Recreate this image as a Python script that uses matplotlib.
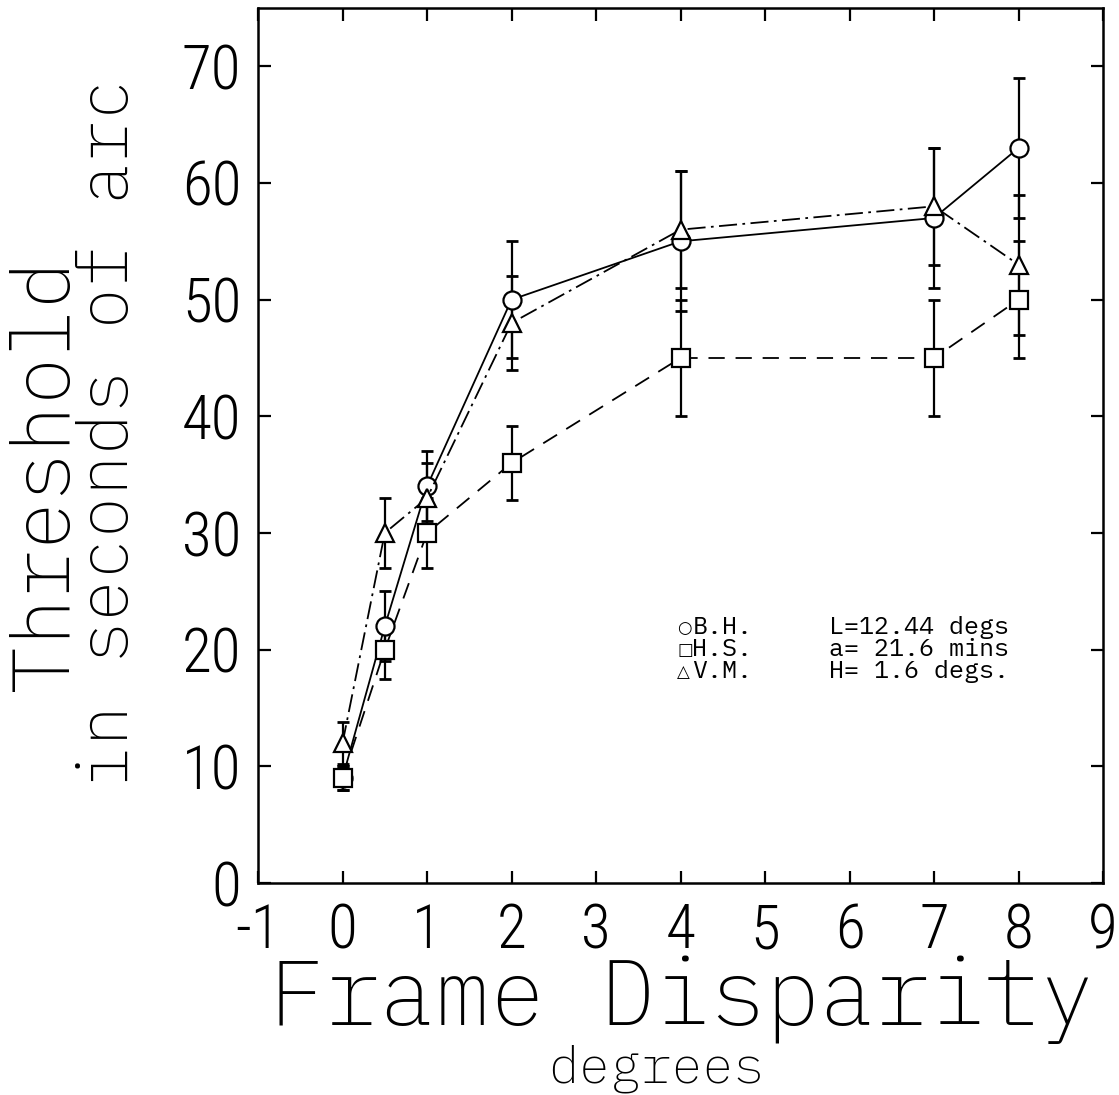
import matplotlib
matplotlib.use("Agg")
import matplotlib.pyplot as plt

# ---- data ------------------------------------------------------------------
disparity = [0, 0.5, 1, 2, 4, 7, 8]

bh_thr = [9, 22, 34, 50, 55, 57, 63]
bh_err = [1, 3, 3, 5, 6, 6, 6]

hs_thr = [9, 20, 30, 36, 45, 45, 50]
hs_err = [1, 2.5, 3, 3.2, 5, 5, 5]

vm_thr = [12, 30, 33, 48, 56, 58, 53]
vm_err = [1.8, 3, 3, 4, 5, 5, 6]

legend_rows = [("\u25cb", "B.H.", "L=12.44 degs"),
               ("\u25a1", "H.S.", "a= 21.6 mins"),
               ("\u25b3", "V.M.", "H= 1.6 degs.")]

xticks = list(range(-1, 10))
yticks = list(range(0, 71, 10))

MONO = ["IBM Plex Mono", "Source Code Pro", "Roboto Mono",
        "DejaVu Sans Mono", "DejaVu Sans"]
NARROW = ["Roboto Condensed", "Liberation Sans Narrow", "Liberation Sans",
          "DejaVu Sans"]

fig = plt.figure(figsize=(11.19, 10.95), dpi=100)
ax = fig.add_axes([0.2306, 0.1936, 0.7551, 0.7991])

series = [
    (bh_thr, bh_err, "o", "-"),
    (hs_thr, hs_err, "s", (0, (9, 6))),
    (vm_thr, vm_err, "^", (0, (10, 3, 1.5, 3))),
]
for thr, err, mk, ls in series:
    ax.errorbar(disparity, thr, yerr=err, fmt="none", ecolor="black",
                elinewidth=1.6, capsize=4, capthick=2, zorder=2)
    ax.plot(disparity, thr, color="black", lw=1.3, ls=ls, marker=mk,
            ms=13, mfc="white", mec="black", mew=1.6, zorder=3)

ax.set_xlim(-1, 9)
ax.set_ylim(0, 75)
ax.set_xticks(xticks)
ax.set_yticks(yticks)
ax.set_xticklabels([str(t) for t in xticks], family=NARROW,
                   fontweight="light", fontsize=44)
ax.set_yticklabels([str(t) for t in yticks], family=NARROW,
                   fontweight="light", fontsize=44)
ax.tick_params(axis="both", direction="in", length=9, width=1.6,
               top=True, right=True)
ax.tick_params(axis="y", pad=12)
ax.tick_params(axis="x", pad=14)
for sp in ax.spines.values():
    sp.set_linewidth(1.8)

# legend block written as plain text, clipped by the right frame
for i, (sym, name, par) in enumerate(legend_rows):
    y = 21.9 - 1.9 * i
    ax.text(3.96, y, sym, family=["DejaVu Sans"], fontsize=12,
            va="center", ha="left", clip_on=True)
    ax.text(4.14, y, name, family=MONO, fontsize=18,
            va="center", ha="left", clip_on=True)
    ax.text(5.76, y, par, family=MONO, fontsize=18,
            va="center", ha="left", clip_on=True)

fig.text(0.61, 0.064, "Frame Disparity", family=MONO, fontweight="light",
         fontsize=66, ha="center", va="baseline")
fig.text(0.586, 0.011, "degrees", family=MONO, fontweight="light",
         fontsize=37, ha="center", va="baseline")
fig.text(0.040, 0.567, "Threshold", family=MONO, fontweight="light",
         fontsize=58, rotation=90, ha="center", va="center")
fig.text(0.097, 0.604, "in seconds of arc", family=MONO, fontweight="light",
         fontsize=50, rotation=90, ha="center", va="center")

fig.savefig("out.png", dpi=100)
